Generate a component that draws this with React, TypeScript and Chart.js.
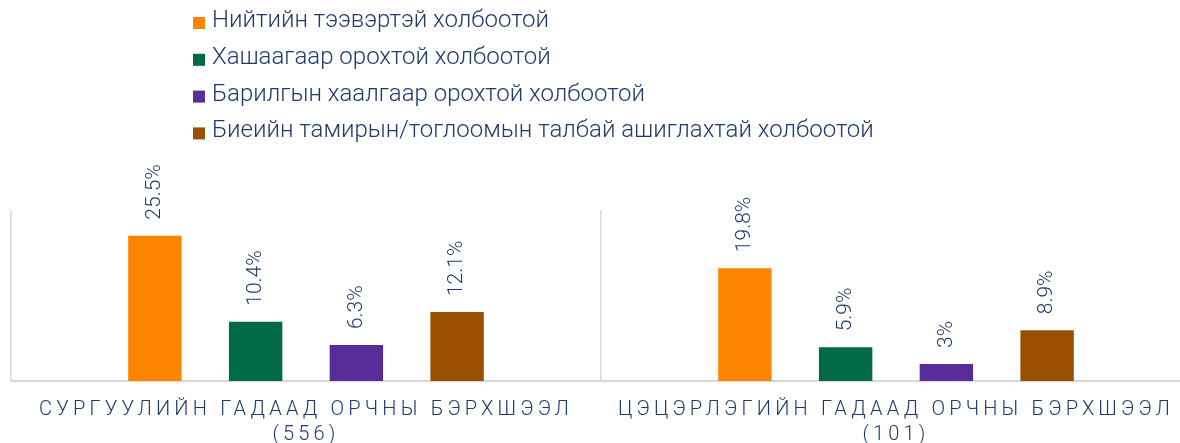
import React, { useEffect, useRef } from "react";
import { Chart, registerables } from "chart.js";

Chart.register(...registerables);

const categories: string[][] = [
  ["СУРГУУЛИЙН ГАДААД ОРЧНЫ БЭРХШЭЭЛ", "(556)"],
  ["ЦЭЦЭРЛЭГИЙН ГАДААД ОРЧНЫ БЭРХШЭЭЛ", "(101)"],
];
const seriesNames: string[] = [
  "Нийтийн тээвэртэй холбоотой",
  "Хашаагаар орохтой холбоотой",
  "Барилгын хаалгаар орохтой холбоотой",
  "Биеийн тамирын/тоглоомын талбай ашиглахтай холбоотой",
];
const publicTransport: number[] = [25.5, 19.8];
const fenceEntry: number[] = [10.4, 5.9];
const buildingDoor: number[] = [6.3, 3];
const playground: number[] = [12.1, 8.9];
const colors: string[] = ["#FF8500", "#006946", "#582D9A", "#9A5000"];

const TEXT = "#1F3A6E";
const FONT = "Roboto";

const letterSpacingPlugin = {
  id: "letterSpacing",
  beforeDraw(chart: any) {
    (chart.ctx as any).letterSpacing = "4.2px";
  },
  beforeDatasetsDraw(chart: any) {
    (chart.ctx as any).letterSpacing = "0px";
  },
};

const valueLabelPlugin = {
  id: "valueLabels",
  afterDatasetsDraw(chart: any) {
    const ctx = chart.ctx;
    ctx.save();
    (ctx as any).letterSpacing = "0px";
    ctx.font = `300 21px ${FONT}`;
    ctx.fillStyle = TEXT;
    ctx.textAlign = "left";
    ctx.textBaseline = "middle";
    chart.data.datasets.forEach((ds: any, di: number) => {
      const meta = chart.getDatasetMeta(di);
      meta.data.forEach((bar: any, i: number) => {
        const v = ds.data[i];
        ctx.save();
        ctx.translate(bar.x, bar.y - 16);
        ctx.rotate(-Math.PI / 2);
        ctx.fillText(`${v}%`, 0, 0);
        ctx.restore();
      });
    });
    ctx.restore();
  },
};

const legendPlugin = {
  id: "columnLegend",
  afterDraw(chart: any) {
    const ctx = chart.ctx;
    ctx.save();
    (ctx as any).letterSpacing = "0px";
    ctx.font = `300 24px ${FONT}`;
    ctx.textAlign = "left";
    ctx.textBaseline = "middle";
    chart.data.datasets.forEach((ds: any, i: number) => {
      const y = 21 + i * 36.8;
      ctx.fillStyle = ds.backgroundColor;
      ctx.fillRect(193, y - 4, 12, 12);
      ctx.fillStyle = TEXT;
      ctx.fillText(ds.label, 212, y);
    });
    ctx.restore();
  },
};

export default function App() {
  const ref = useRef<HTMLCanvasElement | null>(null);
  useEffect(() => {
    if (!ref.current) return;
    const values = [publicTransport, fenceEntry, buildingDoor, playground];
    const chart = new Chart(ref.current, {
      type: "bar",
      data: {
        labels: categories,
        datasets: seriesNames.map((name, i) => ({
          label: name,
          data: values[i],
          backgroundColor: colors[i],
          categoryPercentage: 0.683,
          barPercentage: 0.53,
        })),
      },
      options: {
        animation: false,
        responsive: false,
        devicePixelRatio: 1,
        layout: { padding: { top: 210, left: 11, right: 9, bottom: 0 } },
        plugins: {
          legend: { display: false },
          tooltip: { enabled: false },
        },
        scales: {
          x: {
            offset: true,
            grid: { color: "#D9D9D9", lineWidth: 1.5, drawTicks: false },
            border: { color: "#D9D9D9", width: 2 },
            ticks: {
              color: TEXT,
              font: { family: FONT, size: 20, weight: "300" as any, lineHeight: 1.25 },
              padding: 16,
              maxRotation: 0,
              autoSkip: false,
            },
          },
          y: { display: false, min: 0, max: 30 },
        },
      },
      plugins: [letterSpacingPlugin, valueLabelPlugin, legendPlugin],
    });
    return () => chart.destroy();
  }, []);
  return (
    <div style={{ position: "fixed", left: 0, top: 0, width: 1180, height: 443, overflow: "hidden", background: "#fff" }}>
      <canvas ref={ref} width={1200} height={463} style={{ position: "absolute", left: 0, top: 0, width: 1200, height: 463 }} />
    </div>
  );
}
